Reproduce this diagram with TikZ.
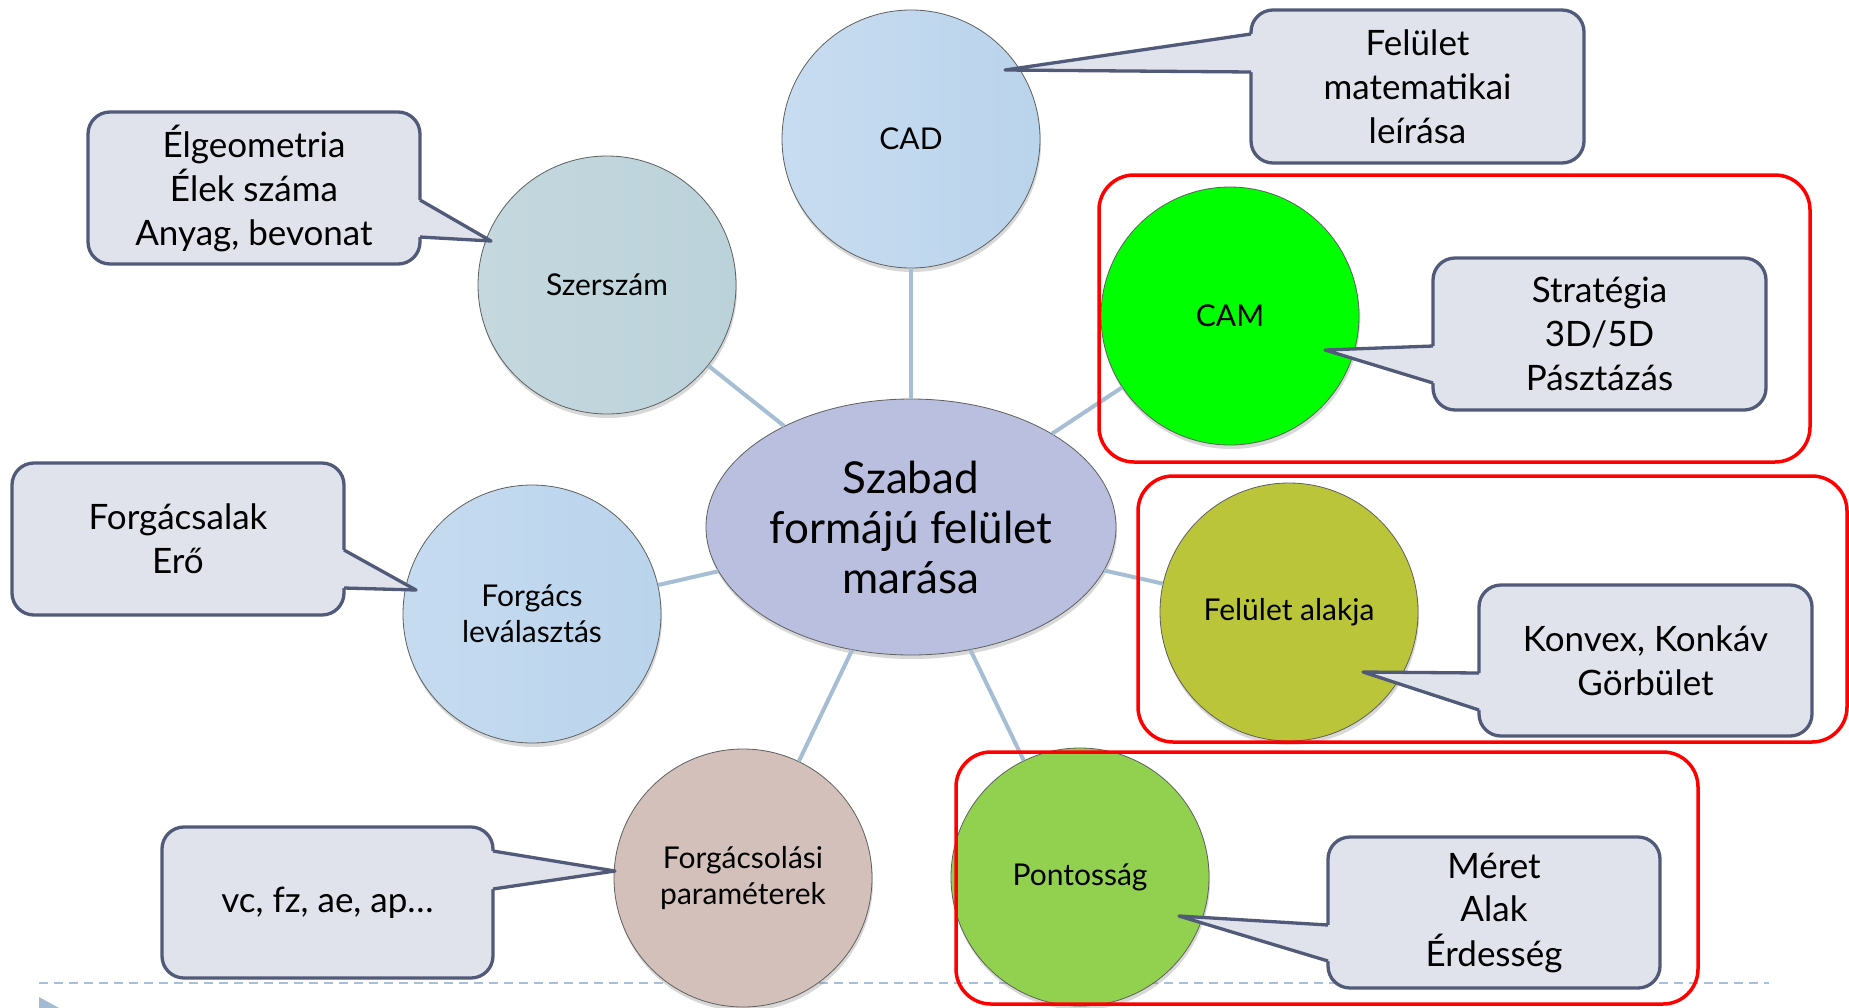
\documentclass[tikz,border=0pt]{standalone}
\usepackage{fontspec}
\setmainfont{Lato}
\usetikzlibrary{shapes.geometric,shadows}
\definecolor{cfill}{RGB}{224,227,235}
\definecolor{cline}{RGB}{82,90,122}
\definecolor{connc}{RGB}{165,190,212}
\definecolor{rimc}{RGB}{95,95,95}
\definecolor{cadL}{RGB}{200,220,240}
\definecolor{cadR}{RGB}{186,212,236}
\definecolor{szL}{RGB}{196,216,222}
\definecolor{szR}{RGB}{188,210,218}
\definecolor{foL}{RGB}{198,219,240}
\definecolor{foR}{RGB}{186,212,236}
\definecolor{paL}{RGB}{212,192,186}
\definecolor{paM}{RGB}{192,168,162}
\definecolor{poC}{RGB}{146,208,80}
\definecolor{alC}{RGB}{187,197,57}
\definecolor{camC}{RGB}{0,255,0}
\definecolor{mainL}{RGB}{186,191,223}
\definecolor{mainM}{RGB}{164,172,212}
\definecolor{dashc}{RGB}{167,191,216}
\definecolor{tric}{RGB}{163,186,211}
\newcommand\ctail[5]{%
  \fill[cfill] ({#1+#2},#3) -- (#1,#3) -- (#5) -- (#1,#4) -- ({#1+#2},#4) -- cycle;
  \draw[tailline] (#1,#3) -- (#5) -- (#1,#4);
}
\begin{document}
\begin{tikzpicture}[
  x=1pt,y=-1pt,
  bubble/.style={circle, minimum size=258pt, inner sep=0pt, draw=rimc, line width=0.8pt,
    align=center, font=\fontsize{30}{36}\selectfont,
    drop shadow={shadow xshift=1pt,shadow yshift=-4pt,opacity=0.3}},
  calloutbox/.style={rectangle, rounded corners=22pt, fill=cfill, draw=cline,
    line width=3.3pt, align=center, inner sep=0pt, font=\fontsize{35}{44}\selectfont},
  tailline/.style={draw=cline, line width=3.3pt, line join=round},
  conn/.style={draw=connc, line width=4pt},
  hilite/.style={draw=red, line width=3.5pt, rounded corners=35pt},
]
\useasboundingbox (0,0) rectangle (1849,1007);
\clip (0,0) rectangle (1849,1007);
\fill[white] (0,0) rectangle (1849,1007);

% dashed rule and marker
\draw[dashc, line width=2.5pt, dash pattern=on 9pt off 6pt] (39,983) -- (1769,983);
\fill[tric] (39,997) -- (70,1014) -- (39,1031) -- cycle;

% central node
\node[ellipse, minimum width=410pt, minimum height=256pt, inner sep=0pt, draw=rimc,
  line width=0.8pt, left color=mainL, middle color=mainM, right color=mainL,
  align=center, font=\fontsize{44}{50}\selectfont,
  drop shadow={shadow xshift=1pt,shadow yshift=-4pt,opacity=0.3}] (main) at (911,527)
  {Szabad\\formájú felület\\marása};

% satellites
\node[bubble, left color=cadL, right color=cadR] (cad) at (911,139) {CAD};
\node[bubble, left color=szL, right color=szR] (szer) at (607,285) {Szerszám};
\node[bubble, left color=foL, right color=foR] (forg) at (532,614) {Forgács\\leválasztás};
\node[bubble, left color=paL, middle color=paM, right color=paL] (param) at (743,878) {Forgácsolási\\paraméterek};
\node[bubble, fill=poC] (pont) at (1080,877) {Pontosság};
\node[bubble, fill=alC] (alak) at (1289,612) {Felület alakja};
\node[bubble, fill=camC] (cam) at (1230,316) {CAM};

% connectors
\draw[conn] (main) -- (cad);
\draw[conn] (main) -- (szer);
\draw[conn] (main) -- (forg);
\draw[conn] (main) -- (param);
\draw[conn] (main) -- (pont);
\draw[conn] (main) -- (alak);
\draw[conn] (main) -- (cam);

% callout tips
\coordinate (tcad) at (1005,70);
\coordinate (tszer) at (491,241);
\coordinate (tcam) at (1325,350);
\coordinate (tforg) at (416,590);
\coordinate (tparam) at (615,871);
\coordinate (talak) at (1363,672);
\coordinate (tpont) at (1179,916);

% callouts
\node[calloutbox, minimum width=333pt, minimum height=153pt] (ncad) at (1417.5,86.5) {Felület\\matematikai\\leírása};
\ctail{1251}{6}{34}{72}{tcad}
\node[calloutbox, minimum width=332pt, minimum height=152pt] (nszer) at (254,188) {Élgeometria\\Élek száma\\Anyag, bevonat};
\ctail{420}{-6}{200}{237}{tszer}
\node[calloutbox, minimum width=333pt, minimum height=152pt] (ncam) at (1599.5,334) {Stratégia\\3D/5D\\Pásztázás};
\ctail{1433}{6}{346}{383}{tcam}
\node[calloutbox, minimum width=332pt, minimum height=152pt] (nforg) at (178,539) {Forgácsalak\\Erő};
\ctail{344}{-6}{550}{588}{tforg}
\node[calloutbox, minimum width=331pt, minimum height=151pt] (nparam) at (327.5,902.5) {vc, fz, ae, ap…};
\ctail{493}{-6}{851}{889}{tparam}
\node[calloutbox, minimum width=333pt, minimum height=151pt] (nalak) at (1645.5,660.5) {Konvex, Konkáv\\Görbület};
\ctail{1479}{6}{673}{710}{talak}
\node[calloutbox, minimum width=332pt, minimum height=151pt] (npont) at (1494,912.5) {Méret\\Alak\\Érdesség};
\ctail{1328}{6}{925}{961}{tpont}

% highlight frames
\draw[hilite] (1099,175) rectangle (1810,462);
\draw[hilite] (1138,476) rectangle (1847,742);
\draw[hilite] (956,752) rectangle (1698,1004);
\end{tikzpicture}
\end{document}
